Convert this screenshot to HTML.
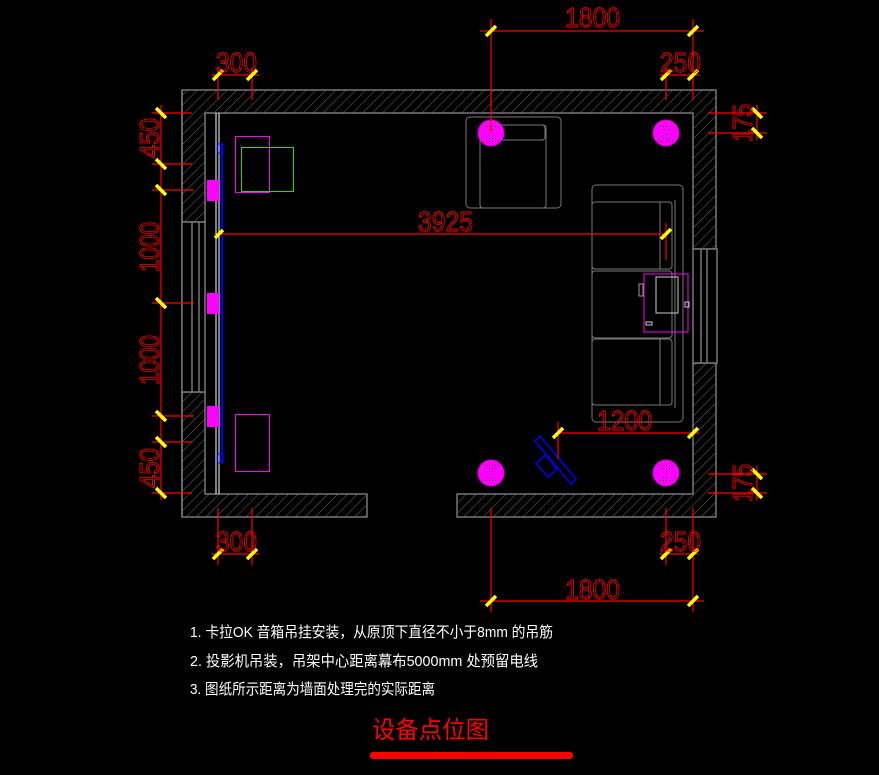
<!DOCTYPE html>
<html><head><meta charset="utf-8"><style>
html,body{margin:0;padding:0;background:#000;}
svg{display:block}
.t{fill:#fff;font-family:"Liberation Sans","Noto Sans CJK SC",sans-serif;font-size:15px}
</style></head><body>
<svg width="879" height="775" viewBox="0 0 879 775" xmlns="http://www.w3.org/2000/svg">
<defs>
<pattern id="h" width="7" height="7" patternUnits="userSpaceOnUse" patternTransform="rotate(45)">
<line x1="0" y1="0" x2="0" y2="7" stroke="#6a6a6a" stroke-width="1"/>
</pattern>
<pattern id="x" width="3" height="3" patternUnits="userSpaceOnUse">
<rect width="3" height="3" fill="#f0f"/><rect width="1" height="1" fill="#303"/>
</pattern>
</defs>
<rect width="879" height="775" fill="#000"/>
<g stroke="#777" stroke-width="1.5">
<path d="M182,90 H716 V517 H457 V494 H693 V363 H716 V249 H693 V113 H205 V222 H182 Z" fill="url(#h)"/>
<path d="M182,392 H205 V494 H367 V517 H182 Z" fill="url(#h)"/>
<path d="M182,90 V517" fill="none"/>
<rect x="182" y="222" width="23" height="170" fill="#000"/>
<line x1="192" y1="222" x2="192" y2="392"/><line x1="199" y1="222" x2="199" y2="392"/>
<rect x="693" y="249" width="24" height="114" fill="#000"/>
<line x1="701" y1="249" x2="701" y2="363"/><line x1="707" y1="249" x2="707" y2="363"/>
</g>
<line x1="216" y1="113" x2="216" y2="494" stroke="#fff" stroke-width="1"/>
<line x1="219" y1="113" x2="219" y2="494" stroke="#fff" stroke-width="1"/>
<line x1="222" y1="144" x2="222" y2="463" stroke="#00f" stroke-width="2"/>
<rect x="218" y="144" width="5" height="9" fill="none" stroke="#00f"/>
<rect x="218" y="454" width="5" height="9" fill="none" stroke="#00f"/>
<g fill="#f0f"><rect x="207" y="180" width="12" height="21"/><rect x="207" y="293" width="12" height="21"/><rect x="207" y="406" width="12" height="21"/></g>
<rect x="235.5" y="136.5" width="34" height="56" fill="none" stroke="#f0f"/>
<rect x="241.5" y="147.5" width="52" height="44" fill="none" stroke="#3c3"/>
<rect x="235.5" y="414.5" width="34" height="57" fill="none" stroke="#f0f"/>
<g fill="none" stroke="#777">
<rect x="466" y="117" width="95" height="91" rx="4"/>
<rect x="480" y="125" width="66" height="83" rx="3"/>
<rect x="480" y="125" width="65" height="15" rx="3"/>
<rect x="592" y="185" width="91" height="237" rx="4"/>
<rect x="592" y="202" width="80" height="67" rx="3"/>
<rect x="592" y="271" width="80" height="67" rx="3"/>
<rect x="592" y="339" width="80" height="66" rx="3"/>
<line x1="660" y1="202" x2="660" y2="269"/><line x1="660" y1="339" x2="660" y2="405"/>
<line x1="675" y1="200" x2="675" y2="408"/>
</g>
<path d="M644,274 H688 V332 H644 Z" fill="none" stroke="#f0f"/>
<rect x="656" y="277" width="22" height="36" fill="none" stroke="#ccc"/>
<rect x="639" y="284" width="4" height="12" fill="none" stroke="#a98"/>
<rect x="646" y="322" width="6" height="3" fill="none" stroke="#ccc"/>
<rect x="685" y="302" width="4" height="5" fill="none" stroke="#ccc"/>
<g fill="#f0f" stroke="#c0c"><circle cx="491" cy="133" r="13"/><circle cx="666" cy="133" r="13"/><circle cx="491" cy="473" r="13"/><circle cx="666" cy="473" r="13"/></g>
<g fill="url(#x)">
<path d="M482,124 L500,142 L482,142 L500,124 Z"/><path d="M657,124 L675,142 L657,142 L675,124 Z"/>
<path d="M482,464 L500,482 L482,482 L500,464 Z"/><path d="M657,464 L675,482 L657,482 L675,464 Z"/>
</g>
<g fill="none" stroke="#00f" stroke-width="1.5">
<polygon points="535,441 540,436 576,479 571,484"/>
<polygon points="546,455 536,463 548,477 557,469"/>
</g>
<g stroke="#f00" stroke-width="1.2">
<line x1="480" y1="31" x2="704" y2="31"/><line x1="491" y1="19" x2="491" y2="133"/><line x1="693" y1="19" x2="693" y2="100"/>
<line x1="212" y1="75" x2="259" y2="75"/><line x1="218" y1="68" x2="218" y2="100"/><line x1="252" y1="68" x2="252" y2="100"/>
<line x1="660" y1="75" x2="699" y2="75"/><line x1="666" y1="68" x2="666" y2="100"/>
<line x1="212" y1="554" x2="259" y2="554"/><line x1="218" y1="508" x2="218" y2="565"/><line x1="252" y1="508" x2="252" y2="565"/>
<line x1="660" y1="554" x2="699" y2="554"/><line x1="666" y1="508" x2="666" y2="565"/><line x1="693" y1="508" x2="693" y2="612"/>
<line x1="480" y1="601" x2="704" y2="601"/><line x1="491" y1="508" x2="491" y2="612"/>
<line x1="219" y1="234" x2="666" y2="234"/><line x1="666" y1="223" x2="666" y2="260"/>
<line x1="558" y1="433" x2="699" y2="433"/><line x1="558" y1="422" x2="558" y2="459"/>
<line x1="161" y1="105" x2="161" y2="500"/>
<line x1="152" y1="113" x2="192" y2="113"/><line x1="152" y1="164" x2="192" y2="164"/><line x1="152" y1="190" x2="194" y2="190"/>
<line x1="152" y1="303" x2="194" y2="303"/><line x1="152" y1="416" x2="194" y2="416"/><line x1="152" y1="442" x2="192" y2="442"/><line x1="152" y1="493" x2="192" y2="493"/>
<line x1="708" y1="113" x2="767" y2="113"/><line x1="708" y1="133" x2="767" y2="133"/><line x1="757" y1="105" x2="757" y2="140"/>
<line x1="708" y1="474" x2="767" y2="474"/><line x1="708" y1="493" x2="767" y2="493"/><line x1="757" y1="466" x2="757" y2="500"/>
</g>
<g stroke="#ff0" stroke-width="3.5">
<path d="M486,36 l10,-10 M688,36 l10,-10 M213,80 l10,-10 M247,80 l10,-10 M661,80 l10,-10 M688,80 l10,-10
M213,559 l10,-10 M247,559 l10,-10 M661,559 l10,-10 M688,559 l10,-10 M486,606 l10,-10 M688,606 l10,-10
M661,239 l10,-10 M215,238 l8,-8 M553,438 l10,-10 M688,438 l10,-10
M156,108 l10,10 M156,159 l10,10 M156,185 l10,10 M156,298 l10,10 M156,411 l10,10 M156,437 l10,10 M156,488 l10,10
M752,108 l10,10 M752,128 l10,10 M752,469 l10,10 M752,488 l10,10"/>
</g>
<g fill="none" stroke="#f00" stroke-width="0.9" font-family="Liberation Sans, sans-serif" font-size="28">
<text x="565" y="27" textLength="55" lengthAdjust="spacingAndGlyphs">1800</text>
<text x="216" y="72" textLength="41" lengthAdjust="spacingAndGlyphs">300</text>
<text x="660" y="72" textLength="41" lengthAdjust="spacingAndGlyphs">250</text>
<text x="216" y="551" textLength="41" lengthAdjust="spacingAndGlyphs">300</text>
<text x="660" y="551" textLength="41" lengthAdjust="spacingAndGlyphs">250</text>
<text x="565" y="599" textLength="55" lengthAdjust="spacingAndGlyphs">1800</text>
<text x="418" y="231" textLength="55" lengthAdjust="spacingAndGlyphs">3925</text>
<text x="597" y="430" textLength="55" lengthAdjust="spacingAndGlyphs">1200</text>
<text transform="translate(159,158) rotate(-90)" textLength="40" lengthAdjust="spacingAndGlyphs">450</text>
<text transform="translate(159,272) rotate(-90)" textLength="50" lengthAdjust="spacingAndGlyphs">1000</text>
<text transform="translate(159,385) rotate(-90)" textLength="50" lengthAdjust="spacingAndGlyphs">1000</text>
<text transform="translate(159,488) rotate(-90)" textLength="40" lengthAdjust="spacingAndGlyphs">450</text>
<text transform="translate(752,142) rotate(-90)" textLength="38" lengthAdjust="spacingAndGlyphs">175</text>
<text transform="translate(752,502) rotate(-90)" textLength="38" lengthAdjust="spacingAndGlyphs">175</text>
</g>
<text class="t" x="190" y="637" textLength="363" lengthAdjust="spacingAndGlyphs">1. 卡拉OK 音箱吊挂安装，从原顶下直径不小于8mm 的吊筋</text>
<text class="t" x="190" y="666" textLength="348" lengthAdjust="spacingAndGlyphs">2. 投影机吊装，吊架中心距离幕布5000mm 处预留电线</text>
<text class="t" x="190" y="694" textLength="245" lengthAdjust="spacingAndGlyphs">3. 图纸所示距离为墙面处理完的实际距离</text>
<text x="372" y="738" fill="#f00" font-family="Liberation Sans, Noto Sans CJK SC, sans-serif" font-size="24" textLength="117" lengthAdjust="spacingAndGlyphs">设备点位图</text>
<rect x="370" y="752" width="203" height="7" rx="3" fill="#f00"/>
</svg>
</body></html>
